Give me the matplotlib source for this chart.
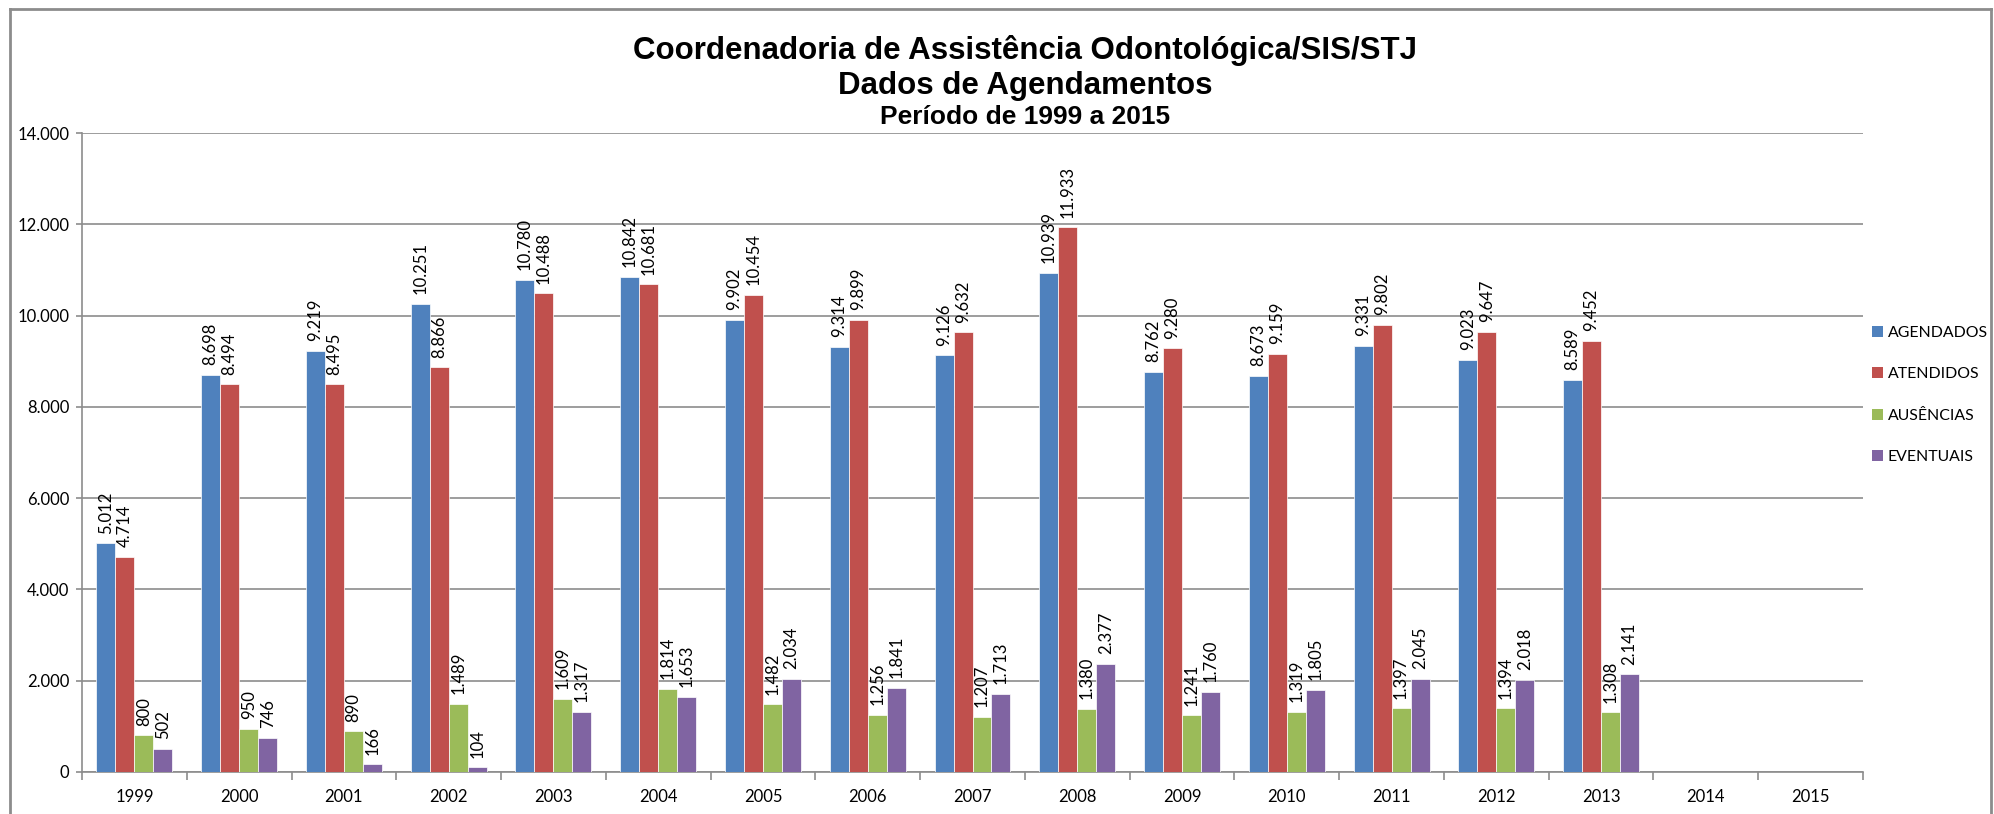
import matplotlib
matplotlib.use("Agg")
import matplotlib.pyplot as plt
import numpy as np
from matplotlib.lines import Line2D
from matplotlib.patches import Patch

years = ["1999", "2000", "2001", "2002", "2003", "2004", "2005", "2006", "2007",
         "2008", "2009", "2010", "2011", "2012", "2013", "2014", "2015"]
series_names = ["AGENDADOS", "ATENDIDOS", "AUSÊNCIAS", "EVENTUAIS"]
agendados = [5012, 8698, 9219, 10251, 10780, 10842, 9902, 9314, 9126, 10939,
             8762, 8673, 9331, 9023, 8589, None, None]
atendidos = [4714, 8494, 8495, 8866, 10488, 10681, 10454, 9899, 9632, 11933,
             9280, 9159, 9802, 9647, 9452, None, None]
ausencias = [800, 950, 890, 1489, 1609, 1814, 1482, 1256, 1207, 1380,
             1241, 1319, 1397, 1394, 1308, None, None]
eventuais = [502, 746, 166, 104, 1317, 1653, 2034, 1841, 1713, 2377,
             1760, 1805, 2045, 2018, 2141, None, None]
yticks = [0, 2000, 4000, 6000, 8000, 10000, 12000, 14000]
title_lines = ["Coordenadoria de Assistência Odontológica/SIS/STJ",
               "Dados de Agendamentos",
               "Período de 1999 a 2015"]

colors = ["#4F81BD", "#C0504D", "#9BBB59", "#8064A2"]
grey = "#8C8C8C"
W, H = 1994, 814
FS = 12.0

def fmt(v):
    return f"{int(v):,}".replace(",", ".")

fig = plt.figure(figsize=(W / 100, H / 100), dpi=100)
ax = fig.add_axes([82 / W, (H - 772) / H, (1863 - 82) / W, (772 - 133) / H])

x = np.arange(len(years))
bw = 19 / 104.8
data = [agendados, atendidos, ausencias, eventuais]
label_font = "Lato"
for i, (vals, c) in enumerate(zip(data, colors)):
    xs = [xi + (i - 1.5) * bw for xi, v in zip(x, vals) if v is not None]
    vs = [v for v in vals if v is not None]
    ax.bar(xs, vs, width=bw, color=c, edgecolor="white", linewidth=0.5, zorder=3)
    for xx, vv in zip(xs, vs):
        ax.annotate(fmt(vv), (xx, vv), xytext=(0, 7), textcoords="offset points",
                    rotation=90, ha="center", va="bottom", fontsize=FS,
                    family=label_font, color="black", zorder=4)

ax.set_xlim(-0.5, len(years) - 0.5)
ax.set_ylim(0, 14000)
ax.set_yticks(yticks)
ax.set_yticklabels([fmt(v) for v in yticks], family=label_font, fontsize=FS)
ax.set_xticks(x)
ax.set_xticklabels(years, family=label_font, fontsize=FS)
ax.set_xticks(np.arange(-0.5, len(years)), minor=True)
ax.tick_params(axis="x", which="major", length=0, pad=12)
ax.tick_params(axis="x", which="minor", length=5.5, color=grey, width=1.2)
ax.tick_params(axis="y", which="major", length=4, color=grey, width=1.2, pad=5)
ax.yaxis.grid(True, color=grey, linewidth=1.2, zorder=0)
ax.set_axisbelow(True)
for s in ["top", "right"]:
    ax.spines[s].set_visible(False)
for s in ["left", "bottom"]:
    ax.spines[s].set_color(grey)
    ax.spines[s].set_linewidth(1.2)

# titles
fig.text(1025 / W, 1 - 51 / H, title_lines[0], ha="center", va="center",
         fontsize=22.5, fontweight="bold", family="Liberation Sans")
fig.text(1025 / W, 1 - 86 / H, title_lines[1], ha="center", va="center",
         fontsize=22.5, fontweight="bold", family="Liberation Sans")
fig.text(1025 / W, 1 - 117 / H, title_lines[2], ha="center", va="center",
         fontsize=19, fontweight="bold", family="Liberation Sans")

handles = [Patch(facecolor=c, edgecolor="none") for c in colors]
fig.legend(handles, series_names, loc="center left",
           bbox_to_anchor=(1872 / W, 1 - 395 / H), frameon=False,
           prop={"family": label_font, "size": 11.4},
           handlelength=0.7, handleheight=0.7, handletextpad=0.3,
           labelspacing=1.74, borderpad=0, borderaxespad=0)

# outer chart border
bx0, by0, bx1 = 10 / W, 1 - 9 / H, 1991 / W
for xs_, ys_ in [([bx0, bx1], [by0, by0]), ([bx0, bx0], [by0, 0]), ([bx1, bx1], [by0, 0])]:
    fig.add_artist(Line2D(xs_, ys_, transform=fig.transFigure, color=grey, linewidth=2))

fig.savefig("out.png", dpi=100)
